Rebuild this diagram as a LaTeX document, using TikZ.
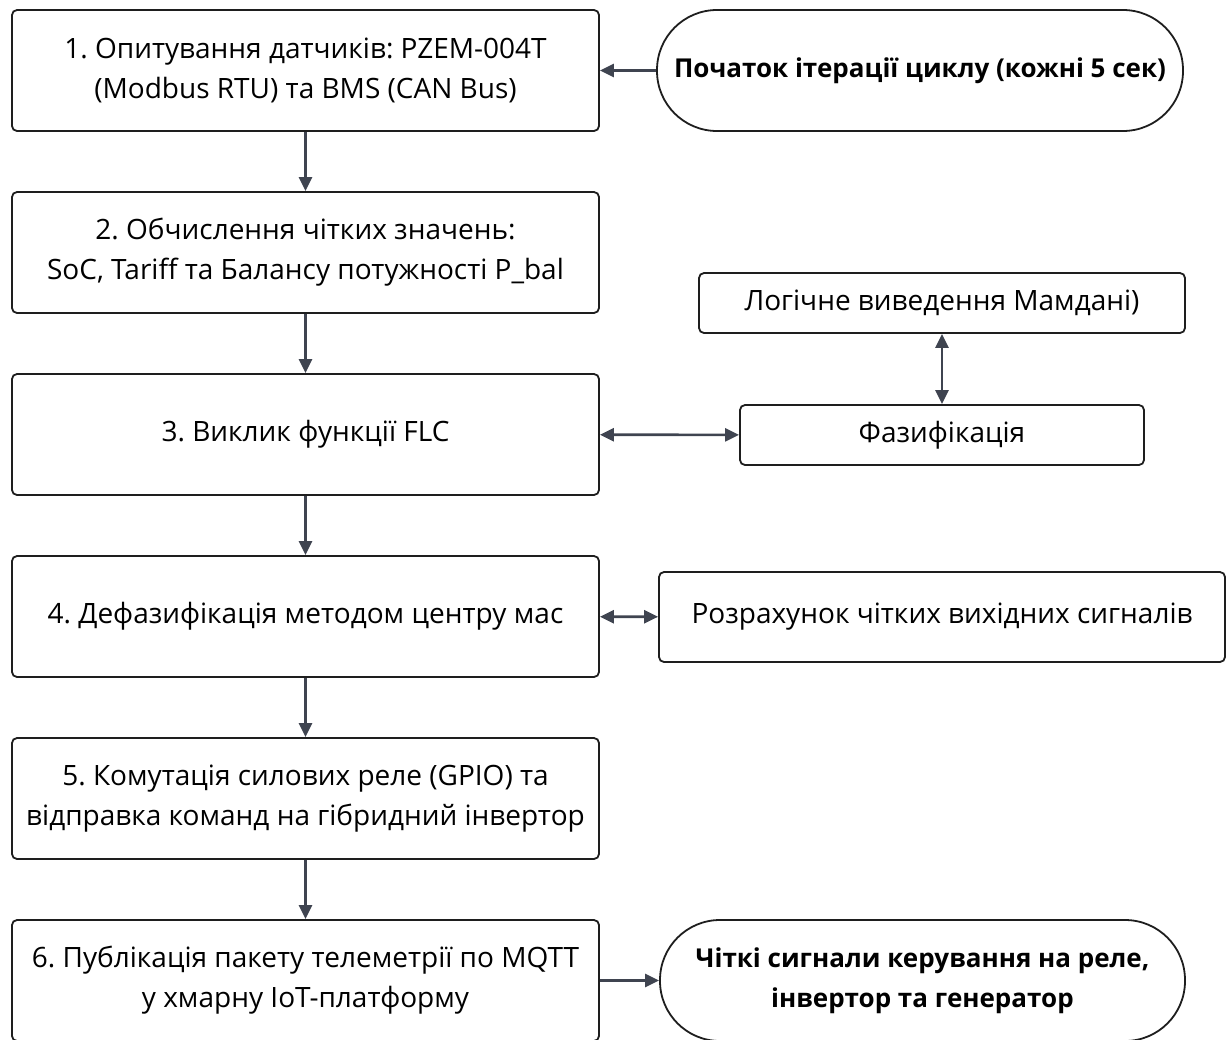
\documentclass[tikz,border=0pt]{standalone}
\usepackage{fontspec}
\setmainfont{Open Sans}
\usetikzlibrary{arrows.meta}
\definecolor{edge}{HTML}{1E1E1E}
\definecolor{arr}{HTML}{3F4450}
\tikzset{
  procbox/.style={draw=edge, line width=1.8pt, rounded corners=5pt, fill=white, align=center,
    font=\fontsize{28}{40}\selectfont\frenchspacing, inner sep=0pt},
  pill/.style={draw=edge, line width=1.8pt, rounded corners=60pt, fill=white, align=center,
    font=\fontsize{26}{40}\selectfont\bfseries\frenchspacing, inner sep=0pt},
  conn/.style={draw=arr, line width=2.6pt, -{Triangle[length=14pt,width=13pt]}},
  bconn/.style={draw=arr, line width=2.6pt, {Triangle[length=14pt,width=13pt]}-{Triangle[length=14pt,width=13pt]}}
}
\begin{document}
\begin{tikzpicture}[x=1pt,y=-1pt]
\useasboundingbox (0,0) rectangle (1229,1039);
\node[procbox, minimum width=587pt, minimum height=121pt] (b1) at (305.5,70.5) {1. Опитування датчиків: PZEM-004T\\(Modbus RTU) та BMS (CAN Bus)};
\node[procbox, minimum width=587pt, minimum height=121pt] (b2) at (305.5,252.5) {2. Обчислення чітких значень:\\SoC, Tariff та Балансу потужності P\_bal};
\node[procbox, minimum width=587pt, minimum height=121pt] (b3) at (305.5,434.5) {3. Виклик функції FLC};
\node[procbox, minimum width=587pt, minimum height=121pt] (b4) at (305.5,616.5) {4. Дефазифікація методом центру мас};
\node[procbox, minimum width=587pt, minimum height=121pt] (b5) at (305.5,798.5) {5. Комутація силових реле (GPIO) та\\відправка команд на гібридний інвертор};
\node[procbox, minimum width=587pt, minimum height=121pt] (b6) at (305.5,980.5) {6. Публікація пакету телеметрії по MQTT\\у хмарну IoT-платформу};
\node[pill, minimum width=526pt, minimum height=121pt] (start) at (920,70.5) {Початок ітерації циклу (кожні 5 сек)};
\node[procbox, minimum width=486pt, minimum height=60pt] (logic) at (942,303) {Логічне виведення Мамдані)};
\node[procbox, minimum width=404pt, minimum height=60pt] (fuzz) at (942,435) {Фазифікація};
\node[procbox, minimum width=566pt, minimum height=90pt] (calc) at (942,617) {Розрахунок чітких вихідних сигналів};
\node[pill, minimum width=525pt, minimum height=121pt] (end) at (922.5,980.5) {Чіткі сигнали керування на реле,\\інвертор та генератор};
\draw[conn] (start) -- (b1);
\draw[conn] (b1) -- (b2);
\draw[conn] (b2) -- (b3);
\draw[conn] (b3) -- (b4);
\draw[conn] (b4) -- (b5);
\draw[conn] (b5) -- (b6);
\draw[bconn] (b3) -- (fuzz);
\draw[bconn] (fuzz) -- (logic);
\draw[bconn] (b4) -- (calc);
\draw[conn] (b6) -- (end);
\end{tikzpicture}
\end{document}
